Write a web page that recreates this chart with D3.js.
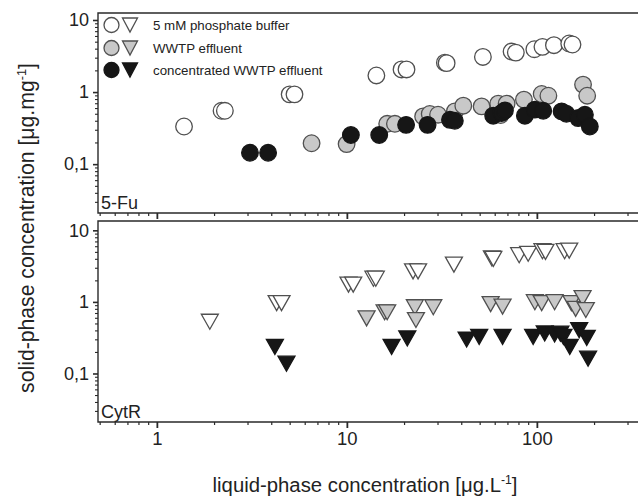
<!DOCTYPE html>
<html><head><meta charset="utf-8">
<script src="https://cdn.jsdelivr.net/npm/d3@7"></script>
<style>
body{margin:0;background:#fff}
svg{display:block}
text{font-family:"Liberation Sans",Arial,Helvetica,sans-serif;fill:#222}
</style>
</head><body>
<svg id="chart" width="638" height="500"></svg>
<script>
// ---- data ----
const seriesNames = ["5 mM phosphate buffer", "WWTP effluent", "concentrated WWTP effluent"];
const panelNames = ["5-Fu", "CytR"];

// 5-Fu (circles)
const fuBufferX = [1.39, 2.19, 2.28, 5.0, 5.3, 14.3, 19.4, 20.6, 32.8, 33.5, 52, 73.6, 77.5, 97, 107, 123, 148, 154];
const fuBufferY = [0.333, 0.55, 0.55, 0.93, 0.93, 1.70, 2.06, 2.06, 2.56, 2.52, 3.07, 3.65, 3.53, 3.93, 4.24, 4.47, 4.72, 4.57];
const fuEffX = [6.52, 9.97, 16.3, 17.9, 25.2, 27.3, 30.2, 37, 41, 51.2, 62.6, 64.5, 69.3, 85.5, 106, 115, 175, 184];
const fuEffY = [0.195, 0.19, 0.363, 0.363, 0.459, 0.496, 0.485, 0.539, 0.647, 0.633, 0.69, 0.48, 0.69, 0.786, 0.94, 0.89, 1.27, 0.89];
const fuConcX = [3.09, 3.85, 10.5, 14.8, 20.5, 26.6, 34.9, 37, 58.9, 65.2, 67.9, 86.5, 97.6, 108, 135, 143, 165, 179, 190];
const fuConcY = [0.144, 0.144, 0.254, 0.254, 0.351, 0.351, 0.412, 0.40, 0.47, 0.512, 0.557, 0.47, 0.57, 0.55, 0.539, 0.50, 0.436, 0.485, 0.333];

// CytR (triangles)
const cytBufferX = [1.90, 4.27, 4.53, 10.2, 10.8, 13.8, 14.2, 22.3, 23.7, 36.6, 58, 59, 80.7, 90, 107, 111, 140, 148];
const cytBufferY = [0.528, 0.96, 0.96, 1.74, 1.74, 2.11, 2.11, 2.67, 2.67, 3.32, 4.05, 3.99, 4.49, 4.70, 5.11, 5.0, 5.11, 5.2];
const cytEffX = [12.7, 15.8, 16.3, 22.8, 23.1, 28.5, 57.1, 66, 97.6, 106, 124, 152, 160, 174, 181];
const cytEffY = [0.589, 0.716, 0.716, 0.842, 0.558, 0.842, 0.93, 0.86, 0.99, 0.96, 0.99, 0.96, 0.80, 1.13, 0.77];
const cytConcX = [4.18, 4.81, 17.2, 20.8, 42.7, 49.7, 66, 95.6, 110, 124, 133, 138, 149, 167, 183, 186];
const cytConcY = [0.235, 0.137, 0.235, 0.308, 0.298, 0.325, 0.325, 0.325, 0.362, 0.35, 0.36, 0.325, 0.235, 0.404, 0.314, 0.161];

const xMajor = [1, 10, 100];
const xMajorLabels = ["1", "10", "100"];
const xMinor = [0.5, 0.6, 0.7, 0.8, 0.9, 2, 3, 4, 5, 6, 7, 8, 9, 20, 30, 40, 50, 60, 70, 80, 90, 200, 300, 400];
const yMajor = [0.1, 1, 10];
const yMajorLabels = ["0,1", "1", "10"];
const yMinor = [0.03, 0.04, 0.05, 0.06, 0.07, 0.08, 0.09, 0.2, 0.3, 0.4, 0.5, 0.6, 0.7, 0.8, 0.9, 2, 3, 4, 5, 6, 7, 8, 9];

// ---- styles ----
const fills = ["#ffffff", "#c8c8c8", "#161616"];
const strokes = ["#505050", "#505050", "#161616"];
const ink = "#2a2a2a";

const svg = d3.select("#chart");

const x = d3.scaleLog().domain([0.49, 400]).range([98, 98 + Math.log10(400 / 0.49) * 190]);
const yTop = d3.scaleLog().domain([0.021, 12.5]).range([213, 13]);
const yBot = d3.scaleLog().domain([0.021, 13.5]).range([422, 221]);

const panels = [
  {name: panelNames[0], y: yTop, sym: "circle",
   series: [[fuBufferX, fuBufferY], [fuEffX, fuEffY], [fuConcX, fuConcY]], labels: false},
  {name: panelNames[1], y: yBot, sym: "tri",
   series: [[cytBufferX, cytBufferY], [cytEffX, cytEffY], [cytConcX, cytConcY]], labels: true}
];

function triPath(w, h) {
  return `M${-w/2},${-h/2}L${w/2},${-h/2}L0,${h/2}Z`;
}

const xRight = 640;

panels.forEach(p => {
  const [y0, y1] = p.y.range(); // bottom, top
  const g = svg.append("g");

  // bottom axis
  const gxMin = g.append("g").attr("transform", `translate(0,${y0})`)
    .call(d3.axisBottom(x).tickValues(xMinor).tickSize(3).tickSizeOuter(0).tickFormat(""));
  const gxMaj = g.append("g").attr("transform", `translate(0,${y0})`)
    .call(d3.axisBottom(x).tickValues(xMajor).tickSize(6).tickSizeOuter(0)
      .tickFormat((d, i) => p.labels ? xMajorLabels[i] : ""));
  [gxMin, gxMaj].forEach(a => {
    a.select(".domain").remove();
    a.selectAll(".tick line").attr("stroke", ink).attr("stroke-width", 1.2);
  });
  gxMaj.selectAll(".tick line").attr("stroke-width", 1.8);
  gxMaj.selectAll(".tick text").attr("font-size", 18.5).attr("fill", ink)
    .attr("font-family", '"Liberation Sans",Arial,sans-serif').attr("dy", "0.9em").attr("y", 6);

  // left axis
  const gyMin = g.append("g").attr("transform", `translate(98,0)`)
    .call(d3.axisLeft(p.y).tickValues(yMinor).tickSize(3).tickSizeOuter(0).tickFormat(""));
  const gyMaj = g.append("g").attr("transform", `translate(98,0)`)
    .call(d3.axisLeft(p.y).tickValues(yMajor).tickSize(5).tickSizeOuter(0)
      .tickFormat((d, i) => yMajorLabels[i]));
  [gyMin, gyMaj].forEach(a => {
    a.select(".domain").remove();
    a.selectAll(".tick line").attr("stroke", ink).attr("stroke-width", 1.1);
  });
  gyMaj.selectAll(".tick line").attr("stroke-width", 1.6);
  gyMaj.selectAll(".tick text").attr("font-size", 18).attr("fill", ink)
    .attr("font-family", '"Liberation Sans",Arial,sans-serif').attr("x", -9);

  // frame
  g.append("path")
    .attr("d", `M${xRight},${y1}H98V${y0}H${xRight}`)
    .attr("fill", "none").attr("stroke", ink).attr("stroke-width", 1.4);

  // panel label
  g.append("text").attr("x", 101).attr("y", y0 - 4).attr("font-size", 18).attr("fill", ink).text(p.name);

  // markers
  p.series.forEach((s, si) => {
    const data = s[0].map((v, i) => [v, s[1][i]]);
    if (p.sym === "circle") {
      g.append("g").selectAll("circle").data(data).join("circle")
        .attr("cx", d => x(d[0])).attr("cy", d => p.y(d[1])).attr("r", 8.3)
        .attr("fill", fills[si]).attr("stroke", strokes[si]).attr("stroke-width", 1.3);
    } else {
      g.append("g").selectAll("path").data(data).join("path")
        .attr("d", triPath(17, 15))
        .attr("transform", d => `translate(${x(d[0])},${p.y(d[1])})`)
        .attr("fill", fills[si]).attr("stroke", strokes[si]).attr("stroke-width", 1.3)
        .attr("stroke-linejoin", "miter");
    }
  });
});

// legend
const legendY = [25, 48, 70];
const lg = svg.append("g");
seriesNames.forEach((n, i) => {
  lg.append("circle").attr("cx", 111.5).attr("cy", legendY[i]).attr("r", 7.5)
    .attr("fill", fills[i]).attr("stroke", strokes[i]).attr("stroke-width", 1.3);
  lg.append("path").attr("d", triPath(15, 14)).attr("transform", `translate(130,${legendY[i]})`)
    .attr("fill", fills[i]).attr("stroke", strokes[i]).attr("stroke-width", 1.3);
  lg.append("text").attr("x", 153).attr("y", legendY[i] + 4.6).attr("font-size", 13.3).attr("fill", ink).text(n);
});

// axis titles
function fitWidth(t, target) {
  const w = t.node().getComputedTextLength();
  const fs = parseFloat(t.attr("font-size"));
  t.attr("font-size", fs * target / w);
  t.selectAll("tspan.sup").attr("font-size", fs * target / w * 0.6);
}
const xt = svg.append("text").attr("x", 365).attr("y", 492).attr("text-anchor", "middle")
  .attr("font-size", 20).attr("fill", ink);
xt.append("tspan").text("liquid-phase concentration [\u03bcg.L");
xt.append("tspan").attr("class", "sup").attr("font-size", 12).attr("dy", -8).text("-1");
xt.append("tspan").attr("dy", 8).text("]");
fitWidth(xt, 305);

const yt = svg.append("text").attr("transform", "translate(34,228) rotate(-90)").attr("text-anchor", "middle")
  .attr("font-size", 20).attr("fill", ink);
yt.append("tspan").text("solid-phase concentration [\u03bcg.mg");
yt.append("tspan").attr("class", "sup").attr("font-size", 12).attr("dy", -8).text("-1");
yt.append("tspan").attr("dy", 8).text("]");
fitWidth(yt, 330);
</script>
</body></html>
